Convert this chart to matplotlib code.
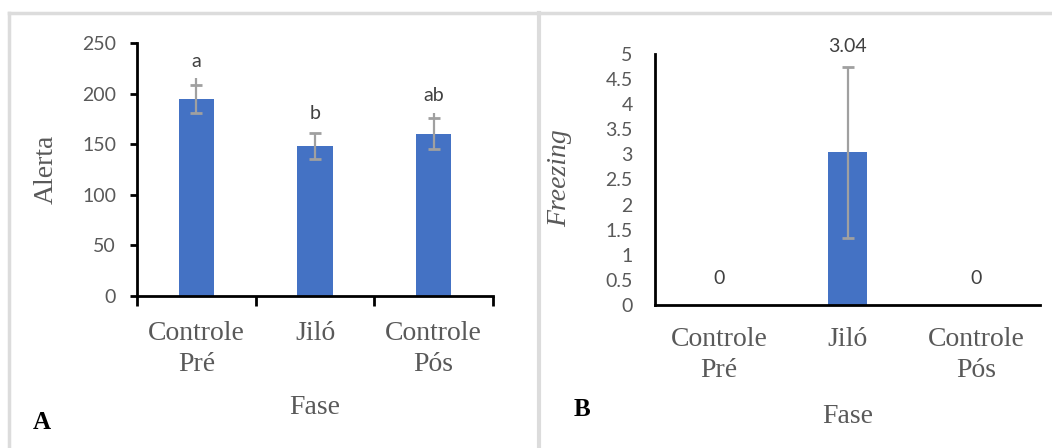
import numpy as np
import matplotlib
matplotlib.use("Agg")
import matplotlib.pyplot as plt
from matplotlib.lines import Line2D

# Dados
fases = ["Controle\nPré", "Jiló", "Controle\nPós"]

alerta = [194.7, 148.2, 160.4]
alerta_erro = [13.5, 13.3, 15.4]
alerta_ext = [20.7, 13.3, 20.0]      # linha cinza acima da barra
alerta_letras = ["a", "b", "ab"]
alerta_letras_y = [232, 180, 198]

freezing = [0, 3.04, 0]
freezing_erro = [0, 1.70, 0]
freezing_rotulos = ["0", "3.04", "0"]
freezing_rotulos_y = [0.52, 5.14, 0.52]

azul = "#4472C4"
cinza_txt = "#595959"
serif = "Liberation Serif"
sans = "Lato"

W, H = 1052, 448
fig = plt.figure(figsize=(W/100, H/100), dpi=100)

def eixo(l, r, b, t):
    return fig.add_axes([l/W, 1 - b/H, (r-l)/W, (b-t)/H])

axA = eixo(137, 493, 296, 43)
axB = eixo(655, 1040, 305, 54)

x = np.arange(len(fases))

# ---- painel A
axA.bar(x, alerta, width=0.30, color=azul, zorder=2)
axA.vlines(x, np.array(alerta) - np.array(alerta_erro), np.array(alerta) + np.array(alerta_ext),
           color="#a0a0a0", lw=1.6, zorder=3)
eb = axA.errorbar(x, alerta, yerr=alerta_erro, fmt="none", ecolor="#a0a0a0",
                  elinewidth=0, capsize=4.5, capthick=2, zorder=4)
for cap in eb[1]:
    cap.set_color("#505050")
for i, s in enumerate(alerta_letras):
    axA.text(x[i], alerta_letras_y[i], s, ha="center", va="center", fontsize=14,
             family=sans, color="#404040")

axA.set_xlim(-0.5, 2.5)
axA.set_ylim(0, 250)
axA.set_yticks(np.arange(0, 251, 50))
axA.set_xticks(x)
axA.set_xticks([-0.5, 0.5, 1.5, 2.5], minor=True)
axA.set_xticklabels(fases, family=serif, fontsize=20, color=cinza_txt, linespacing=1.3)
axA.tick_params(axis="x", which="major", length=0, pad=18)
axA.tick_params(axis="x", which="minor", length=7, width=2, direction="out")
axA.tick_params(axis="y", length=5, width=2, direction="out", pad=10,
                labelsize=14, labelcolor=cinza_txt)
for lab in axA.get_yticklabels():
    lab.set_family(sans)
axA.set_ylabel("Alerta", family=serif, fontsize=20, color=cinza_txt)
axA.yaxis.set_label_coords(-0.219, 0.5)
axA.set_xlabel("Fase", family=serif, fontsize=20, color=cinza_txt, va="center")
axA.xaxis.set_label_coords(0.5, -0.439)

# ---- painel B
axB.bar(x, freezing, width=0.31, color=azul, zorder=2)
axB.vlines(x[1:2], [freezing[1] - freezing_erro[1]], [freezing[1] + freezing_erro[1]],
           color="#a0a0a0", lw=1.6, zorder=3)
ebB = axB.errorbar(x[1:2], freezing[1:2], yerr=freezing_erro[1:2], fmt="none",
                   ecolor="#a0a0a0", elinewidth=0, capsize=4.5, capthick=2, zorder=4)
for cap in ebB[1]:
    cap.set_color("#505050")
for i, s in enumerate(freezing_rotulos):
    axB.text(x[i], freezing_rotulos_y[i], s, ha="center", va="center", fontsize=14,
             family=sans, color="#404040", clip_on=False)

axB.set_xlim(-0.5, 2.5)
axB.set_ylim(0, 5)
yt = np.arange(0, 5.01, 0.5)
axB.set_yticks(yt)
axB.set_yticklabels([f"{v:g}" for v in yt], family=sans, fontsize=14, color=cinza_txt)
axB.set_xticks(x)
axB.set_xticklabels(fases, family=serif, fontsize=20, color=cinza_txt, linespacing=1.3)
axB.tick_params(axis="x", length=0, pad=16)
axB.tick_params(axis="y", length=0, pad=16)
axB.set_ylabel("Freezing", family=serif, style="italic", fontsize=20, color=cinza_txt)
axB.yaxis.set_label_coords(-0.216, 0.506)
axB.set_xlabel("Fase", family=serif, fontsize=20, color=cinza_txt, va="center")
axB.xaxis.set_label_coords(0.5, -0.446)

for ax in (axA, axB):
    for lado in ("top", "right"):
        ax.spines[lado].set_visible(False)
    for lado in ("left", "bottom"):
        ax.spines[lado].set_linewidth(2)
        ax.spines[lado].set_color("black")

# letras dos painéis
fig.text(42/W, 1 - 422/H, "A", family=serif, weight="bold", fontsize=18,
         ha="center", va="center", color="black")
fig.text(582/W, 1 - 409/H, "B", family=serif, weight="bold", fontsize=18,
         ha="center", va="center", color="black")

# molduras
borda = "#dcdcdc"
fig.add_artist(Line2D([9/W, 1], [1 - 13/H, 1 - 13/H], color=borda, lw=2.5))
fig.add_artist(Line2D([9/W, 9/W], [0, 1 - 13/H], color=borda, lw=2.5))
fig.add_artist(Line2D([539/W, 539/W], [0, 1 - 13/H], color=borda, lw=3))

fig.savefig("out.png", dpi=100)
